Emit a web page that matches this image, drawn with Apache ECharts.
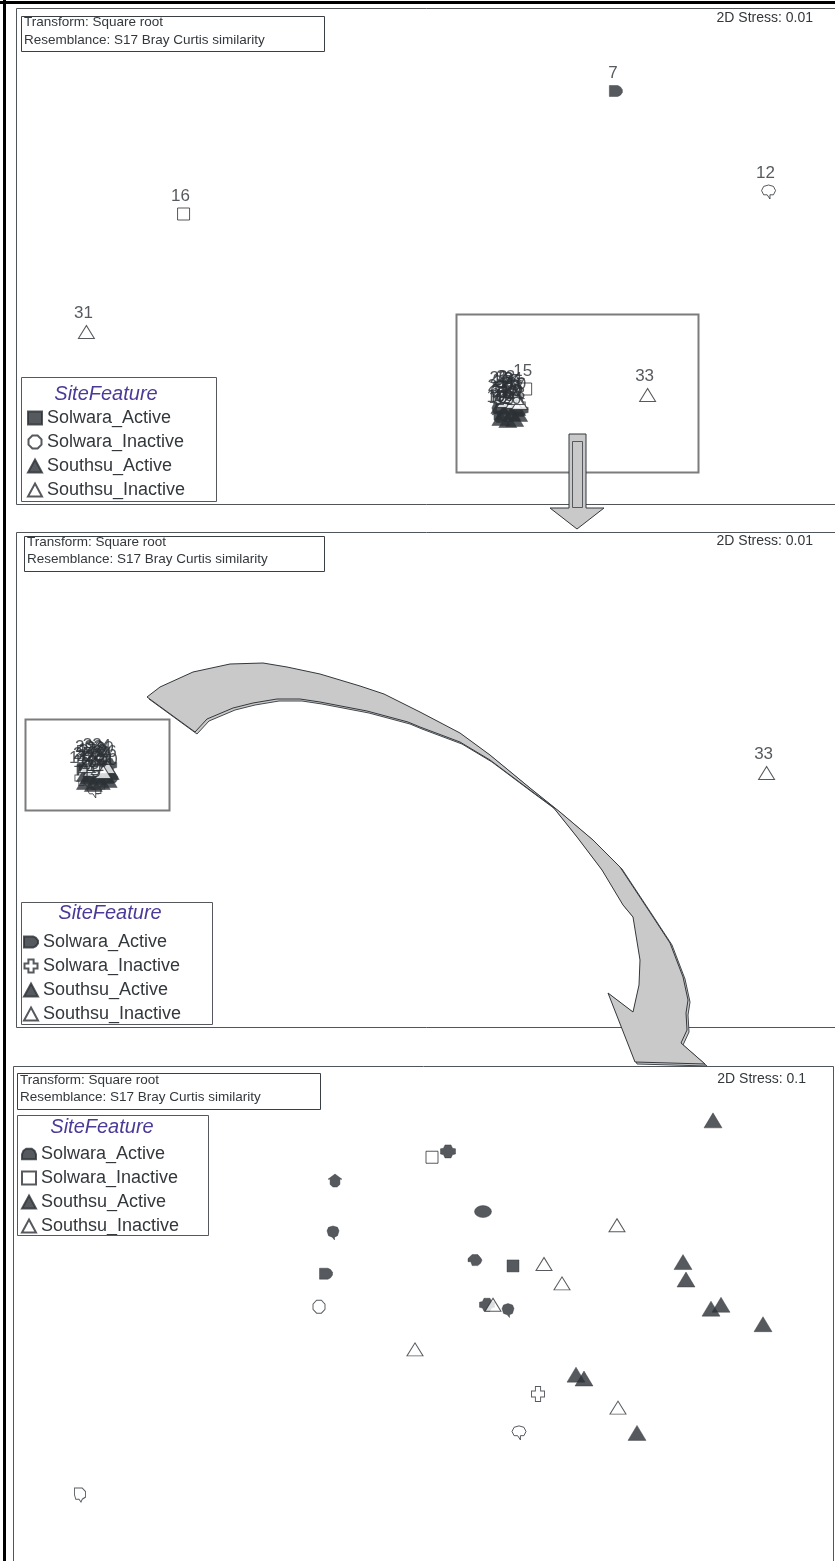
<!DOCTYPE html>
<html>
<head>
<meta charset="utf-8">
<title>nMDS - SiteFeature</title>
<script src="https://cdn.jsdelivr.net/npm/echarts@6/dist/echarts.min.js"></script>
<style>
html, body { margin: 0; padding: 0; background: #fff; }
#main { width: 835px; height: 1561px; }
</style>
</head>
<body>
<div id="main"></div>
<script>
var FONT = '"Liberation Sans", Arial, sans-serif';
var INK = '#2c3136';
var TEXT = '#33383c';

// ---- top panel: all 34 samples (x, y, sample) ----
var topSolwaraActive = [
  [0.975, 0.825, '7'],
  [0.39, -0.715, '1'], [0.42, -0.70, '2'], [0.45, -0.705, '3'],
  [0.41, -0.74, '4'], [0.48, -0.72, '5'], [0.38, -0.77, '6'],
  [0.445, -0.73, '8'], [0.495, -0.77, '9'], [0.385, -0.80, '10']
];
var topSolwaraInactive = [
  [1.745, 0.32, '12'], [-1.205, 0.21, '16'], [0.52, -0.665, '15'],
  [0.405, -0.76, '11'], [0.46, -0.77, '13'], [0.425, -0.795, '14'], [0.485, -0.745, '17']
];
var topSouthsuActive = [
  [0.395, -0.81, '18'], [0.43, -0.82, '19'], [0.465, -0.815, '20'],
  [0.41, -0.78, '21'], [0.45, -0.785, '22'], [0.485, -0.79, '23'],
  [0.39, -0.75, '24'], [0.435, -0.755, '25'], [0.475, -0.76, '26']
];
var topSouthsuInactive = [
  [-1.695, -0.38, '31'], [1.135, -0.695, '33'],
  [0.415, -0.725, '27'], [0.46, -0.73, '28'], [0.40, -0.705, '29'],
  [0.49, -0.735, '30'], [0.435, -0.70, '32'], [0.47, -0.71, '34']
];

// ---- middle panel: outliers 7, 12, 16, 31 removed ----
var midSolwaraActive = [
  [-1.70, 0.055, '1'], [-1.66, 0.06, '2'], [-1.62, 0.065, '3'],
  [-1.58, 0.07, '4'], [-1.71, 0.045, '5'], [-1.64, 0.03, '6'],
  [-1.60, 0.045, '8'], [-1.68, 0.0, '9'], [-1.57, 0.005, '10']
];
var midSolwaraInactive = [
  [-1.655, -0.06, '15'], [-1.635, -0.035, '11'], [-1.675, -0.01, '13'],
  [-1.61, 0.0, '14'], [-1.72, 0.005, '17']
];
var midSouthsuActive = [
  [-1.70, -0.015, '18'], [-1.66, -0.025, '19'], [-1.62, -0.015, '20'],
  [-1.585, -0.005, '21'], [-1.68, 0.015, '22'], [-1.64, 0.01, '23'],
  [-1.60, 0.02, '24'], [-1.70, 0.025, '25'], [-1.575, 0.035, '26']
];
var midSouthsuInactive = [
  [1.735, 0.03, '33'],
  [-1.67, 0.045, '27'], [-1.63, 0.055, '28'], [-1.69, 0.065, '29'],
  [-1.59, 0.06, '30'], [-1.65, 0.075, '32'], [-1.61, 0.035, '34']
];

// ---- bottom panel: 33 removed as well ----
var botSolwaraActive = [
  [0.125, 0.80], [-0.44, 0.65], [0.30, 0.49], [-0.45, 0.38], [0.26, 0.24],
  [0.45, 0.21], [-0.485, 0.17], [0.32, 0.01], [0.425, -0.02]
];
var botSolwaraInactive = [
  [0.045, 0.77], [-0.52, 0.0], [0.575, -0.45], [0.48, -0.65], [-1.715, -0.97]
];
var botSouthsuActive = [
  [1.45, 0.96], [1.30, 0.23], [1.315, 0.14], [1.44, -0.01], [1.49, 0.01],
  [1.70, -0.09], [0.765, -0.35], [0.805, -0.37], [1.07, -0.65]
];
var botSouthsuInactive = [
  [0.97, 0.42], [0.605, 0.22], [0.695, 0.12], [0.35, 0.01], [-0.04, -0.22], [0.975, -0.52]
];

var groups = ['Solwara_Active', 'Solwara_Inactive', 'Southsu_Active', 'Southsu_Inactive'];

// PRIMER-like marker outlines
var SYM = {
  square: ['rect', [12, 12]],
  tri: ['triangle', [18, 15]],
  otri: ['triangle', [16, 13]],
  ellipse: ['circle', [17, 12]],
  bullet: ['path://M-10,-8 L3,-8 L7,-6 L10,-2 L10,2 L7,6 L3,8 L-10,8 Z', [13, 11]],
  dome: ['path://M-10,7 L-10,0 L-8,-5 L-4,-8 L4,-8 L8,-5 L10,0 L10,7 Z', [13, 11]],
  house: ['path://M0,-10 L10,-2 L7,-2 L7,6 L3,10 L-3,10 L-7,6 L-7,-2 L-10,-2 Z', [14, 13]],
  drop: ['path://M-8,-3 L-6,-8 L0,-10 L6,-8 L8,-3 L6,4 L2,6 L2,10 L-1,6 L-6,4 Z', [12, 14]],
  fish: ['path://M-10,-2 L-4,-7 L4,-7 L8,-3 L10,0 L8,4 L4,7 L-4,7 L-6,2 L-10,2 Z', [14, 11]],
  plus: ['path://M-4,-10 L4,-10 L6,-5 L10,-4 L10,4 L6,5 L4,10 L-4,10 L-6,5 L-10,4 L-10,-4 L-6,-5 Z', [15, 13]],
  octagon: ['path://M-4,-10 L4,-10 L10,-4 L10,4 L4,10 L-4,10 L-10,4 L-10,-4 Z', [12, 13]],
  cross: ['path://M-4,-10 L4,-10 L4,-4 L10,-4 L10,4 L4,4 L4,10 L-4,10 L-4,4 L-10,4 L-10,-4 L-4,-4 Z', [13, 15]],
  balloon: ['path://M-10,-2 L-7,-8 L0,-10 L7,-8 L10,-2 L7,4 L2,4 L2,10 L-2,4 L-7,4 Z', [14, 14]],
  odd: ['path://M-8,-10 L4,-10 L9,-5 L9,3 L4,6 L2,10 L-1,6 L-6,6 L-8,0 Z', [11, 14]]
};

var topShapes = [['bullet', 'house', 'drop', 'bullet', 'plus', 'house', 'drop', 'bullet', 'plus', 'house'],
  ['balloon', 'square', 'square', 'cross', 'balloon', 'octagon', 'cross'], ['tri'], ['otri']];
var midShapes = [['bullet', 'house', 'drop', 'plus', 'bullet', 'house', 'drop', 'plus', 'bullet'],
  ['balloon', 'cross', 'octagon', 'balloon', 'cross'], ['tri'], ['otri']];
var botShapes = [['plus', 'house', 'ellipse', 'drop', 'fish', 'square', 'bullet', 'plus', 'drop'],
  ['square', 'octagon', 'cross', 'balloon', 'odd'], ['tri'], ['otri']];

function scatter(gi, name, data, shapeList, filled, withLabels) {
  return {
    type: 'scatter', name: name, xAxisIndex: gi, yAxisIndex: gi,
    silent: true, animation: false,
    data: data.map(function (d, i) {
      var s = SYM[shapeList[i] || shapeList[0]];
      return { value: [d[0], d[1]], name: d[2] || '', symbol: s[0], symbolSize: s[1] };
    }),
    itemStyle: filled ? { color: INK, borderColor: INK, borderWidth: 0.5 }
                      : { color: '#fff', borderColor: INK, borderWidth: 1 },
    label: {
      show: withLabels, position: 'top', distance: 3, offset: [-3, 0],
      formatter: '{b}', fontSize: 17, color: INK, fontFamily: FONT
    }
  };
}

var filledFlags = [true, false, true, false];
var series = [];
[topSolwaraActive, topSolwaraInactive, topSouthsuActive, topSouthsuInactive].forEach(function (d, i) {
  series.push(scatter(0, groups[i], d, topShapes[i], filledFlags[i], true));
});
[midSolwaraActive, midSolwaraInactive, midSouthsuActive, midSouthsuInactive].forEach(function (d, i) {
  series.push(scatter(1, groups[i], d, midShapes[i], filledFlags[i], true));
});
[botSolwaraActive, botSolwaraInactive, botSouthsuActive, botSouthsuInactive].forEach(function (d, i) {
  series.push(scatter(2, groups[i], d, botShapes[i], filledFlags[i], false));
});

function legendFor(top, left, icons) {
  return {
    orient: 'vertical', left: left, top: top, padding: 0,
    itemWidth: 14, itemHeight: 13, itemGap: 6, selectedMode: false,
    textStyle: { fontSize: 18, lineHeight: 18, color: TEXT, fontFamily: FONT },
    data: groups.map(function (g, i) { return { name: g, icon: SYM[icons[i]][0] }; })
  };
}

// ---- decorations: frames, note boxes, zoom arrows ----
var G = [];
function box(x, y, w, h, stroke, lw) {
  G.push({ type: 'rect', silent: true, z: 5, shape: { x: x + 0.5, y: y + 0.5, width: w, height: h },
    style: { fill: 'none', stroke: stroke, lineWidth: lw || 1 } });
}
function line(x1, y1, x2, y2, stroke, lw) {
  G.push({ type: 'line', silent: true, z: 5, shape: { x1: x1, y1: y1, x2: x2, y2: y2 },
    style: { stroke: stroke, lineWidth: lw || 1 } });
}
function txt(x, y, s, size, align, color, style) {
  G.push({ type: 'text', silent: true, z: 6, style: {
    x: x, y: y, text: s, fill: color || TEXT, align: align || 'left', verticalAlign: 'middle',
    font: (style || 'normal') + ' ' + size + 'px ' + FONT } });
}
function notes(x, y, w, h, y1, y2) {
  box(x, y, w, h, '#3a3f44', 1);
  txt(x + 3, y1, 'Transform: Square root', 13.5);
  txt(x + 3, y2, 'Resemblance: S17 Bray Curtis similarity', 13.5);
}
function legendBox(x, y, w, h, tx, ty) {
  box(x, y, w, h, '#55595d', 1);
  txt(tx, ty, 'SiteFeature', 20, 'center', '#4b3a98', 'italic');
}

// outer frame
line(4.5, 0, 4.5, 1561, '#000', 3);
line(0, 2.5, 835, 2.5, '#000', 3);
// panels
box(16, 8, 840, 496, '#50555a', 1);
box(16, 532, 840, 495, '#50555a', 1);
box(13, 1066, 820, 520, '#50555a', 1);
// zoom windows
box(456, 314, 242, 158, '#7c7c7c', 2);
box(25, 719, 144, 91, '#7c7c7c', 2);

notes(21, 16, 303, 35, 22, 40);
notes(24, 536, 300, 35, 542, 559);
notes(17, 1073, 303, 36, 1080, 1097);

txt(813, 18, '2D Stress: 0.01', 14, 'right');
txt(813, 541, '2D Stress: 0.01', 14, 'right');
txt(806, 1079, '2D Stress: 0.1', 14, 'right');

legendBox(21, 377, 195, 124, 106, 394);
legendBox(21, 902, 191, 122, 110, 913);
legendBox(17, 1115, 191, 120, 102, 1127);

// straight arrow from top zoom window to middle panel
var downArrow = [[569, 434], [586, 434], [586, 508], [604, 508], [577, 529], [550, 508], [569, 508]];
G.push({ type: 'polygon', silent: true, z: 8, shape: { points: downArrow },
  style: { fill: '#c9c9c9', stroke: '#33383c', lineWidth: 1 } });
G.push({ type: 'rect', silent: true, z: 9, shape: { x: 572.5, y: 441.5, width: 10, height: 66 },
  style: { fill: 'none', stroke: '#55595d', lineWidth: 1 } });
line(569, 439.5, 586, 439.5, '#55595d', 1);

// curved arrow from middle zoom window to bottom panel
var curve = [[147, 697], [160, 687], [193, 672], [230, 664], [263, 663], [287, 667], [320, 674],
  [360, 686], [384, 694], [420, 712], [460, 733], [490, 755], [530, 788], [560, 812], [593, 840],
  [620, 867], [653, 917], [670, 943], [683, 977], [688, 1000], [686, 1013], [687, 1030], [681, 1043],
  [705, 1064], [635, 1062], [608, 993], [633, 1012], [639, 985], [640, 960], [633, 917], [623, 905],
  [602, 870], [577, 837], [553, 807], [530, 790], [490, 760], [460, 742], [420, 727], [408, 722],
  [367, 711], [320, 702], [300, 699], [277, 699], [253, 703], [233, 708], [207, 719], [195, 732]];
G.push({ type: 'polygon', silent: true, z: 7,
  shape: { points: curve.map(function (p) { return [p[0] + 2, p[1] + 2]; }) },
  style: { fill: '#c9c9c9', stroke: '#44494e', lineWidth: 1 } });
G.push({ type: 'polygon', silent: true, z: 8, shape: { points: curve },
  style: { fill: '#c9c9c9', stroke: '#33383c', lineWidth: 1 } });

var chart = echarts.init(document.getElementById('main'), null, { renderer: 'canvas' });
chart.setOption({
  backgroundColor: '#fff',
  animation: false,
  grid: [
    { left: 16, top: 8, width: 826, height: 496 },
    { left: 16, top: 533, width: 826, height: 494 },
    { left: 13, top: 1066, width: 820, height: 510 }
  ],
  xAxis: [
    { type: 'value', gridIndex: 0, min: -2.05, max: 2.08, show: false },
    { type: 'value', gridIndex: 1, min: -2.05, max: 2.08, show: false },
    { type: 'value', gridIndex: 2, min: -2.05, max: 2.05, show: false }
  ],
  yAxis: [
    { type: 'value', gridIndex: 0, min: -1.24, max: 1.24, show: false },
    { type: 'value', gridIndex: 1, min: -1.24, max: 1.23, show: false },
    { type: 'value', gridIndex: 2, min: -1.31, max: 1.24, show: false }
  ],
  legend: [
    legendFor(409, 27, ['square', 'octagon', 'tri', 'otri']),
    legendFor(933, 23, ['bullet', 'cross', 'tri', 'otri']),
    legendFor(1145, 21, ['dome', 'square', 'tri', 'otri'])
  ],
  graphic: G,
  series: series
});
</script>
</body>
</html>
